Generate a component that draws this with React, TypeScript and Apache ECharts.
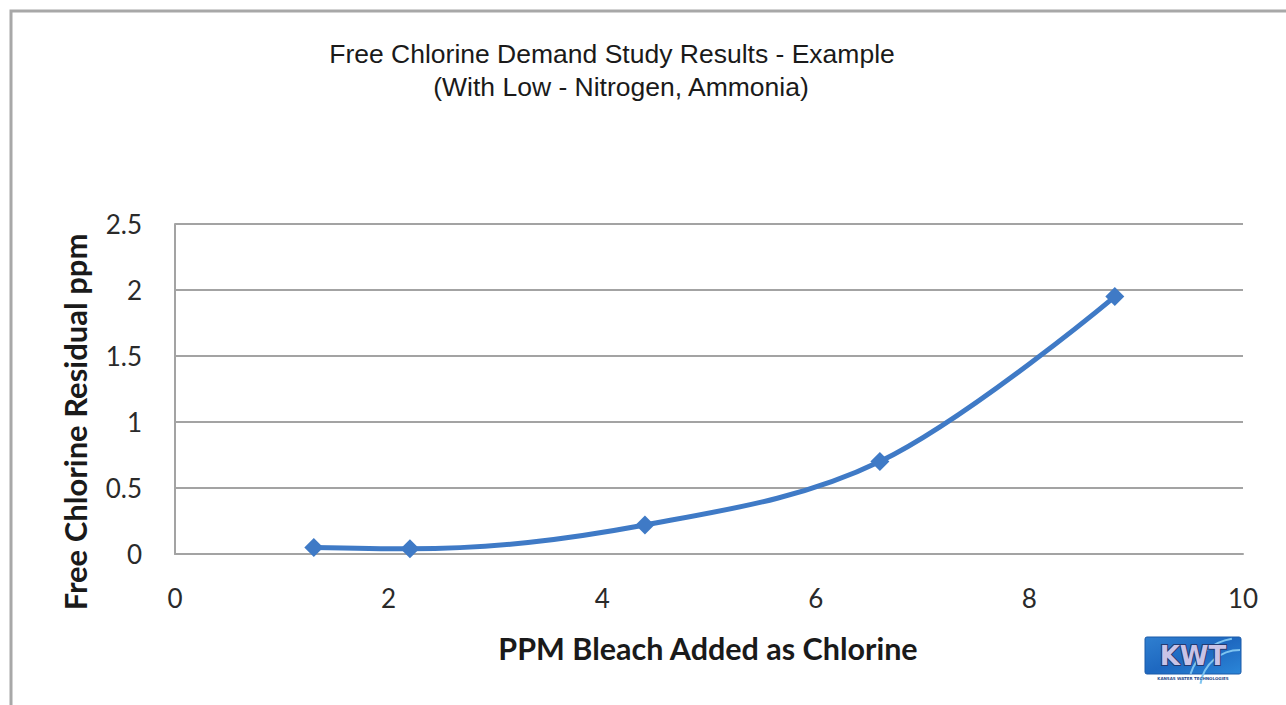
import React, { useEffect, useRef } from "react";
import * as echarts from "echarts";

const xValues = [1.3, 2.2, 4.4, 6.6, 8.8];
const yValues = [0.05, 0.04, 0.22, 0.7, 1.95];
const titleLines = ["Free Chlorine Demand Study Results - Example", "(With Low - Nitrogen, Ammonia)"];
const xAxisTitle = "PPM Bleach Added as Chlorine";
const yAxisTitle = "Free Chlorine Residual ppm";

export default function App() {
  const ref = useRef<HTMLDivElement>(null);
  useEffect(() => {
    if (!ref.current) return;
    const chart = echarts.init(ref.current, null, { renderer: "svg" });
    const gray = "#a3a3a3";
    chart.setOption({
      animation: false,
      backgroundColor: "#ffffff",
      grid: { left: 175, top: 224, width: 1068, height: 330, containLabel: false },
      xAxis: {
        type: "value",
        min: 0,
        max: 10,
        interval: 2,
        axisLine: { show: true, lineStyle: { color: gray, width: 2 } },
        axisTick: { show: false },
        splitLine: { show: false },
        axisLabel: { margin: 31, fontSize: 26, color: "#2a2a2a", fontFamily: "Lato" },
      },
      yAxis: {
        type: "value",
        min: 0,
        max: 2.5,
        interval: 0.5,
        axisLine: { show: true, lineStyle: { color: gray, width: 2 } },
        axisTick: { show: false },
        splitLine: { show: true, lineStyle: { color: gray, width: 2 } },
        axisLabel: { margin: 33, fontSize: 26, color: "#2a2a2a", fontFamily: "Lato" },
      },
      series: [
        {
          type: "line",
          data: xValues.map((x, i) => [x, yValues[i]]),
          smooth: 0.35,
          symbol: "diamond",
          symbolSize: 19,
          lineStyle: { color: "#3f7ac6", width: 5 },
          itemStyle: { color: "#3f7ac6" },
        },
      ],
      graphic: [
        {
          type: "rect",
          shape: { x: 11, y: 11, width: 1320, height: 740 },
          style: { fill: "none", stroke: "#a8a8a8", lineWidth: 3 },
          silent: true,
        },
        {
          type: "text",
          x: 612,
          y: 54,
          style: {
            text: titleLines[0],
            font: "26.5px 'Liberation Sans', Arial, sans-serif",
            fill: "#1a1a1a",
            align: "center",
            verticalAlign: "middle",
          },
        },
        {
          type: "text",
          x: 621,
          y: 87,
          style: {
            text: titleLines[1],
            font: "26.5px 'Liberation Sans', Arial, sans-serif",
            fill: "#1a1a1a",
            align: "center",
            verticalAlign: "middle",
          },
        },
        {
          type: "text",
          x: 708,
          y: 648,
          style: {
            text: xAxisTitle,
            font: "bold 30.5px Lato, sans-serif",
            fill: "#1a1a1a",
            align: "center",
            verticalAlign: "middle",
          },
        },
        {
          type: "text",
          x: 75,
          y: 422,
          rotation: Math.PI / 2,
          style: {
            text: yAxisTitle,
            font: "bold 31px Lato, sans-serif",
            fill: "#1a1a1a",
            align: "center",
            verticalAlign: "middle",
          },
        },
        {
          type: "group",
          children: [
            {
              type: "rect",
              shape: { x: 1145, y: 637, width: 96, height: 37, r: 2 },
              style: {
                fill: new echarts.graphic.LinearGradient(0, 0, 1, 1, [
                  { offset: 0, color: "#2f7fd0" },
                  { offset: 0.5, color: "#1e68c0" },
                  { offset: 1, color: "#2b86d8" },
                ]),
                stroke: "#1b5aa8",
                lineWidth: 1,
              },
            },
            {
              type: "arc",
              shape: { cx: 1240, cy: 690, r: 40, startAngle: Math.PI * 1.05, endAngle: Math.PI * 1.5 },
              style: { stroke: "#7fc4f0", lineWidth: 2, fill: "none" },
            },
            {
              type: "arc",
              shape: { cx: 1240, cy: 690, r: 52, startAngle: Math.PI * 1.1, endAngle: Math.PI * 1.45 },
              style: { stroke: "#7fc4f0", lineWidth: 2, fill: "none" },
            },
            {
              type: "text",
              x: 1193,
              y: 656,
              style: {
                text: "KWT",
                font: "bold 26px 'DejaVu Sans', sans-serif",
                fill: "#c9c3e6",
                stroke: "#243a70",
                lineWidth: 2,
                align: "center",
                verticalAlign: "middle",
              },
            },
            {
              type: "text",
              x: 1193,
              y: 678,
              style: {
                text: "KANSAS WATER TECHNOLOGIES",
                font: "bold 4px 'DejaVu Sans', sans-serif",
                fill: "#2a4a8a",
                align: "center",
                verticalAlign: "middle",
              },
            },
          ],
        },
      ],
    });
    return () => chart.dispose();
  }, []);
  return (
    <div
      ref={ref}
      style={{ position: "absolute", left: 0, top: 0, width: 1286, height: 705 }}
    />
  );
}
